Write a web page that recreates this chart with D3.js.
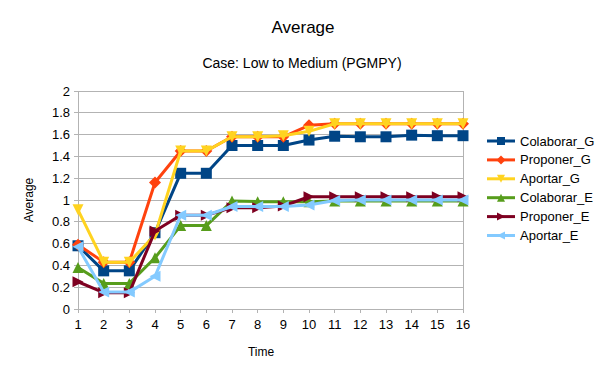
<!DOCTYPE html>
<html><head><meta charset="utf-8">
<script src="https://cdn.jsdelivr.net/npm/d3@7"></script>
<style>body{margin:0;background:#fff;}svg{display:block;font-family:"Liberation Sans",Arial,sans-serif;}</style>
</head><body><svg id="c" width="605" height="378"></svg>
<script>
const times = [1,2,3,4,5,6,7,8,9,10,11,12,13,14,15,16];
const yTicks = [0,0.2,0.4,0.6,0.8,1,1.2,1.4,1.6,1.8,2];
const seriesNames = ["Colaborar_G","Proponer_G","Aportar_G","Colaborar_E","Proponer_E","Aportar_E"];
const colaborarG = [0.58,0.35,0.35,0.70,1.245,1.245,1.50,1.50,1.50,1.55,1.585,1.58,1.58,1.595,1.59,1.59];
const proponerG  = [0.59,0.43,0.43,1.16,1.45,1.45,1.58,1.58,1.58,1.685,1.70,1.70,1.70,1.70,1.70,1.70];
const aportarG   = [0.91,0.43,0.43,0.68,1.45,1.45,1.58,1.58,1.59,1.63,1.70,1.70,1.70,1.70,1.70,1.70];
const colaboraE  = [0.38,0.235,0.235,0.47,0.765,0.765,0.99,0.985,0.985,0.985,0.99,0.99,0.99,0.99,0.99,0.99];
const proponerE  = [0.25,0.15,0.15,0.715,0.86,0.86,0.93,0.93,0.945,1.03,1.03,1.03,1.03,1.03,1.03,1.03];
const aportarE   = [0.57,0.155,0.155,0.30,0.86,0.86,0.94,0.94,0.94,0.955,0.995,1.0,1.0,1.0,1.0,1.0];
const colors = ["#004586","#ff420e","#ffd320","#579d1c","#7e0021","#83caff"];
const markers = ["square","diamond","down","up","right","left"];
const seriesValues = [colaborarG,proponerG,aportarG,colaboraE,proponerE,aportarE];

const svg = d3.select("#c");
const L=78, R=463, T=91, B=309;
const x = d3.scaleLinear().domain([1,16]).range([L,R]);
const y = d3.scaleLinear().domain([0,2]).range([B,T]);

// grid
svg.append("g").selectAll("line").data(yTicks).join("line")
  .attr("x1",L-4).attr("x2",R).attr("y1",d=>y(d)).attr("y2",d=>y(d))
  .attr("stroke","#b3b3b3").attr("stroke-width",1).attr("shape-rendering","crispEdges");
svg.append("line").attr("x1",L).attr("x2",L).attr("y1",T).attr("y2",B+4).attr("stroke","#b3b3b3").attr("shape-rendering","crispEdges");
svg.append("line").attr("x1",R).attr("x2",R).attr("y1",T).attr("y2",B).attr("stroke","#b3b3b3").attr("shape-rendering","crispEdges");
svg.append("g").selectAll("line").data(times).join("line")
  .attr("x1",d=>x(d)).attr("x2",d=>x(d)).attr("y1",B).attr("y2",B+4)
  .attr("stroke","#b3b3b3").attr("shape-rendering","crispEdges");

// tick labels
svg.append("g").selectAll("text").data(yTicks).join("text")
  .attr("x",L-8).attr("y",d=>y(d)+4.5).attr("text-anchor","end")
  .attr("font-size",13).attr("fill","#000").text(d=>String(d));
svg.append("g").selectAll("text").data(times).join("text")
  .attr("x",d=>x(d)).attr("y",B+20).attr("text-anchor","middle")
  .attr("font-size",13).attr("fill","#000").text(d=>String(d));

// titles
svg.append("text").attr("x",303).attr("y",33).attr("text-anchor","middle").attr("font-size",17).text("Average");
svg.append("text").attr("x",302).attr("y",68).attr("text-anchor","middle").attr("font-size",14).text("Case: Low to Medium (PGMPY)");
svg.append("text").attr("x",261).attr("y",356).attr("text-anchor","middle").attr("font-size",12).text("Time");
svg.append("text").attr("transform","translate(33,200) rotate(-90)").attr("text-anchor","middle").attr("font-size",12).text("Average");

function markerPath(type, s){
  const h=s/2;
  switch(type){
    case "square": return `M${-h},${-h}H${h}V${h}H${-h}Z`;
    case "diamond": return `M0,${-h}L${h},0L0,${h}L${-h},0Z`;
    case "down": return `M${-h},${-h}L${h},${-h}L0,${h}Z`;
    case "up": return `M${-h},${h}L${h},${h}L0,${-h}Z`;
    case "right": return `M${-h},${-h}L${h},0L${-h},${h}Z`;
    case "left": return `M${h},${-h}L${-h},0L${h},${h}Z`;
  }
}

const line = d3.line().x((d,i)=>x(times[i])).y(d=>y(d));
seriesValues.forEach((vals,k)=>{
  const g = svg.append("g");
  g.append("path").attr("d",line(vals)).attr("fill","none").attr("stroke",colors[k]).attr("stroke-width",3).attr("stroke-linejoin","round");
  g.selectAll("path.m").data(vals).join("path").attr("class","m")
    .attr("transform",(d,i)=>`translate(${x(times[i])},${y(d)})`)
    .attr("d",markerPath(markers[k], markers[k]==="diamond"?12:11)).attr("fill",colors[k]);
});

// legend
const lg = svg.append("g");
seriesNames.forEach((n,k)=>{
  const yy = 141 + k*18.9;
  lg.append("line").attr("x1",487).attr("x2",515).attr("y1",yy).attr("y2",yy).attr("stroke",colors[k]).attr("stroke-width",3);
  lg.append("path").attr("transform",`translate(501,${yy})`).attr("d",markerPath(markers[k], markers[k]==="diamond"?9:8)).attr("fill",colors[k]);
  lg.append("text").attr("x",520).attr("y",yy+4.5).attr("font-size",13).text(n);
});
</script></body></html>
